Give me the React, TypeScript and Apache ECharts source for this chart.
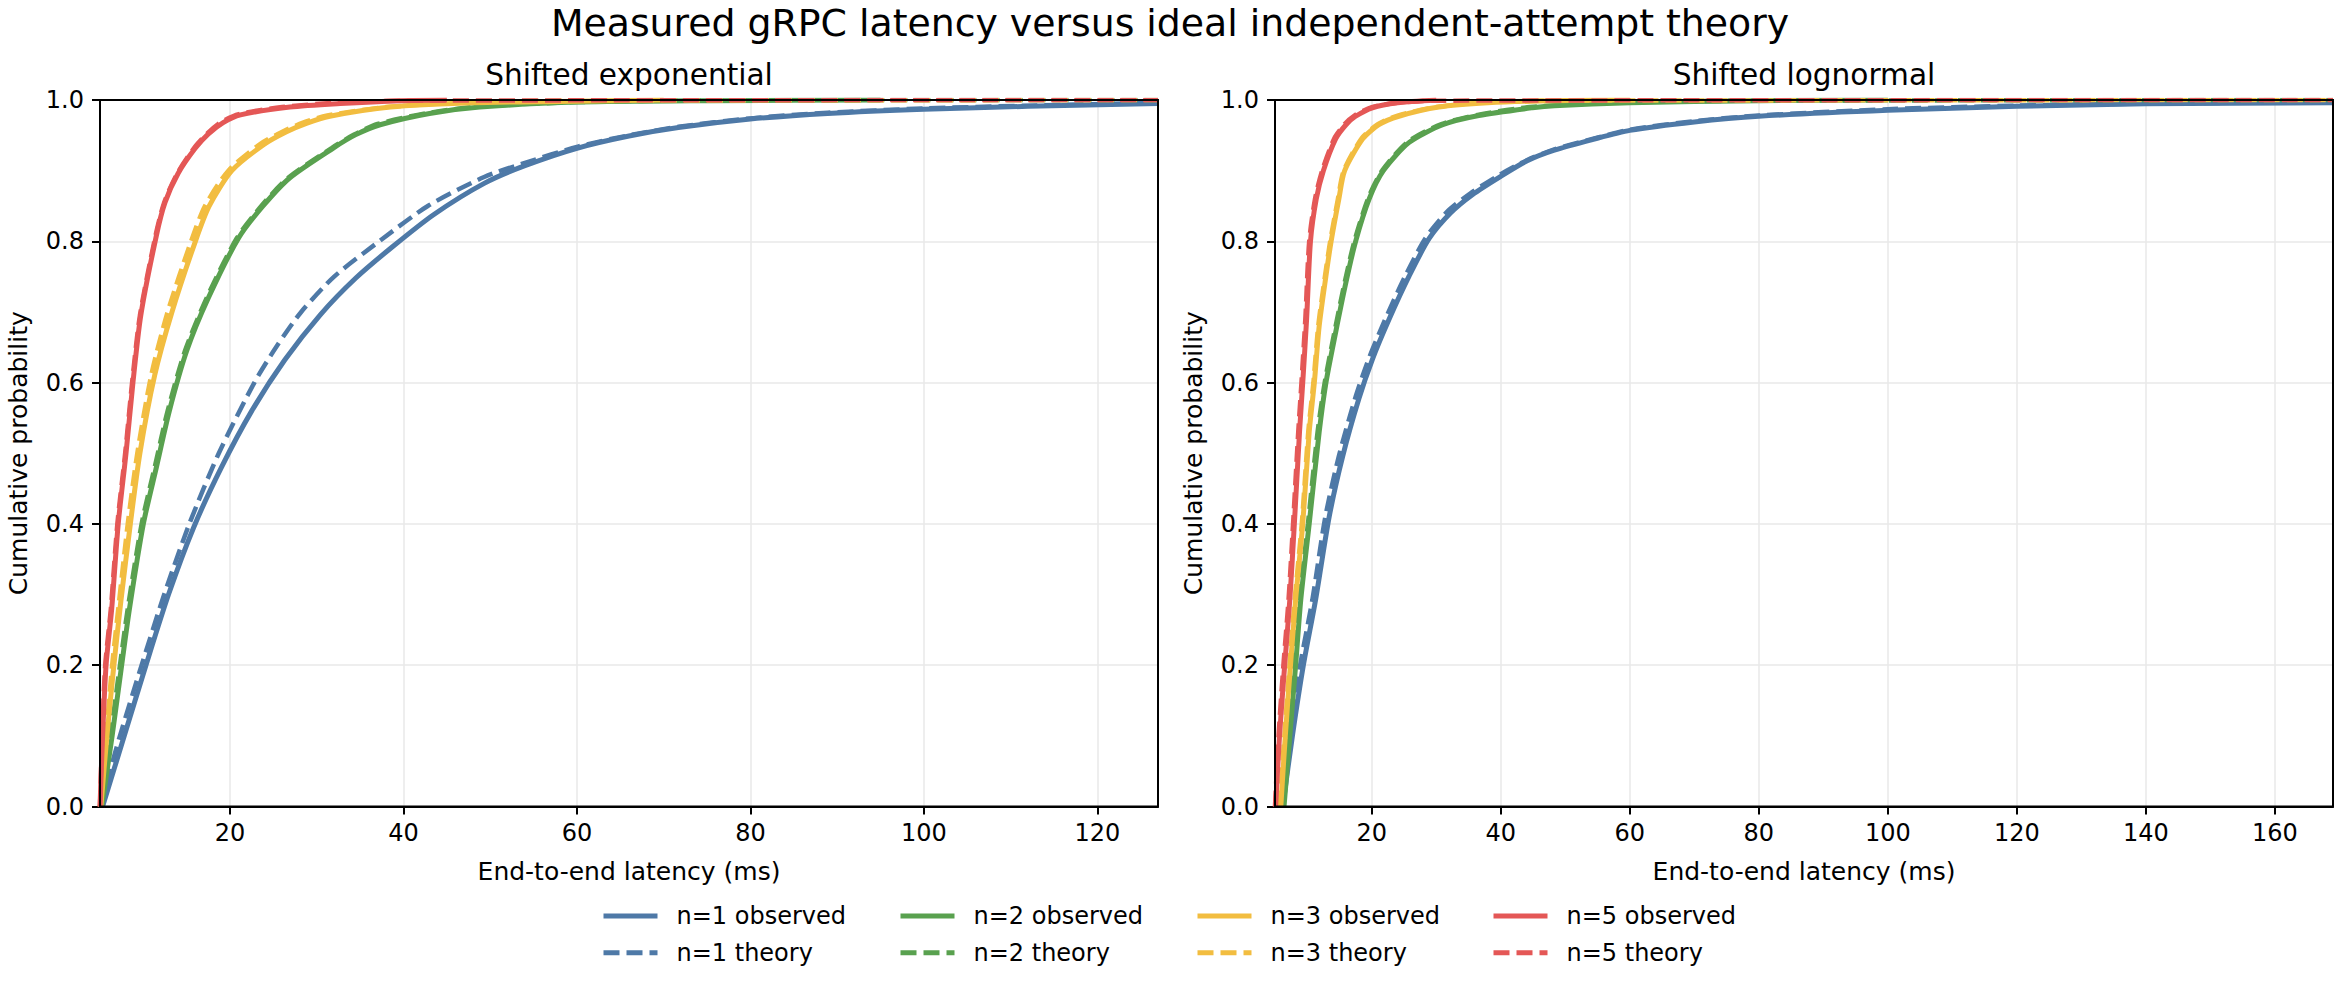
import React, { useEffect, useRef } from "react";
import * as echarts from "echarts";

const FONT = '"DejaVu Sans", "Liberation Sans", sans-serif';

const mainTitle = "Measured gRPC latency versus ideal independent-attempt theory";
const panelTitles = ["Shifted exponential", "Shifted lognormal"];
const xAxisLabel = "End-to-end latency (ms)";
const yAxisLabel = "Cumulative probability";
const attemptLabels = ["n=1", "n=2", "n=3", "n=5"];
const attemptColors = ["#4E79A7", "#59A14F", "#F2BD40", "#E45756"];

const yTicks = [0, 0.2, 0.4, 0.6, 0.8, 1.0];
const expXTicks = [20, 40, 60, 80, 100, 120];
const logXTicks = [20, 40, 60, 80, 100, 120, 140, 160];
const expXRange = [5.0, 127.0];
const logXRange = [5.0, 169.0];

// ---- Shifted exponential panel: [latency ms, cumulative probability] ----
const expN1Observed = [
  [5.3, 0], [7.8, 0.1], [10.3, 0.2], [12.9, 0.3], [15.8, 0.395], [19.0, 0.48], [22.5, 0.56],
  [26.3, 0.632], [30.4, 0.696], [34.5, 0.748], [38.8, 0.793], [43.5, 0.838], [49.3, 0.882],
  [54.0, 0.907], [60.1, 0.932], [66.0, 0.949], [71.7, 0.961], [80.0, 0.973], [88.9, 0.981],
  [100.0, 0.987], [112.0, 0.991], [127.0, 0.995],
];
const expN1Theory = [
  [5.0, 0], [7.3, 0.1], [9.8, 0.2], [12.4, 0.3], [15.3, 0.4], [18.7, 0.5], [22.8, 0.6],
  [25.3, 0.65], [28.2, 0.7], [32.0, 0.75], [37.2, 0.8], [42.8, 0.85], [49.3, 0.891],
  [54.0, 0.911], [60.1, 0.934], [66.0, 0.95], [71.7, 0.962], [80.0, 0.974], [88.9, 0.982],
  [100.0, 0.988], [112.0, 0.992], [127.0, 0.996],
];
const expN2Observed = [
  [5.2, 0], [6.4, 0.1], [7.5, 0.2], [8.4, 0.28], [10.0, 0.4], [11.5, 0.48], [13.0, 0.56],
  [15.0, 0.645], [17.5, 0.72], [21.0, 0.805], [23.8, 0.85], [26.9, 0.89], [31.9, 0.932],
  [34.5, 0.951], [37.3, 0.965], [43.0, 0.981], [48.8, 0.99], [60.2, 0.997], [75.0, 0.999],
  [95.0, 1.0],
];
const expN2Theory = [
  [5.0, 0], [6.2, 0.1], [7.3, 0.2], [8.2, 0.28], [9.8, 0.4], [11.3, 0.48], [12.8, 0.56],
  [14.8, 0.645], [17.3, 0.72], [20.8, 0.805], [23.6, 0.85], [26.7, 0.89], [31.7, 0.932],
  [34.3, 0.951], [37.0, 0.966], [43.0, 0.982], [49.0, 0.991], [60.0, 0.997], [75.0, 0.9995],
  [127.0, 1.0],
];
const expN3Observed = [
  [5.1, 0], [5.8, 0.1], [6.6, 0.2], [7.4, 0.29], [8.5, 0.4], [9.6, 0.5], [11.3, 0.61],
  [13.3, 0.7], [16.0, 0.8], [17.6, 0.85], [20.2, 0.9], [23.9, 0.937], [26.5, 0.955],
  [28.8, 0.967], [31.5, 0.977], [38.5, 0.99], [48.0, 0.996], [58.0, 0.998], [70.0, 1.0],
];
const expN3Theory = [
  [5.0, 0], [5.7, 0.1], [6.4, 0.2], [7.2, 0.29], [8.2, 0.4], [9.3, 0.5], [10.9, 0.61],
  [12.8, 0.7], [15.5, 0.8], [17.1, 0.85], [19.8, 0.9], [23.5, 0.938], [26.2, 0.956],
  [28.4, 0.968], [31.2, 0.978], [38.0, 0.99], [48.0, 0.997], [60.0, 0.999], [127.0, 1.0],
];
const expN5Observed = [
  [5.0, 0], [5.3, 0.1], [5.7, 0.2], [6.35, 0.28], [7.1, 0.4], [8.0, 0.5], [8.8, 0.6],
  [9.7, 0.695], [11.5, 0.808], [12.5, 0.855], [14.0, 0.896], [16.0, 0.932], [17.5, 0.952],
  [19.2, 0.968], [21.2, 0.979], [26.9, 0.99], [32.7, 0.995], [39.6, 0.999], [45.0, 1.0],
];
const expN5Theory = [
  [5.0, 0], [5.25, 0.1], [5.6, 0.2], [6.25, 0.28], [7.0, 0.4], [7.9, 0.5], [8.7, 0.6],
  [9.6, 0.695], [11.4, 0.808], [12.4, 0.855], [13.9, 0.896], [15.9, 0.933], [17.4, 0.953],
  [19.0, 0.969], [21.0, 0.98], [26.0, 0.99], [32.0, 0.996], [40.0, 0.999], [127.0, 1.0],
];

// ---- Shifted lognormal panel ----
const logN1Observed = [
  [6.2, 0], [7.7, 0.1], [9.4, 0.2], [11.3, 0.293], [13.4, 0.41], [15.5, 0.496], [18.0, 0.577],
  [20.1, 0.633], [22.7, 0.69], [25.8, 0.751], [28.9, 0.804], [32.2, 0.84], [35.6, 0.866],
  [40.0, 0.892], [44.1, 0.914], [48.3, 0.929], [54.2, 0.944], [60.0, 0.957], [70.0, 0.969],
  [80.0, 0.977], [100.0, 0.9855], [120.0, 0.991], [140.0, 0.9947], [169.0, 0.996],
];
const logN1Theory = [
  [5.9, 0], [7.3, 0.1], [8.9, 0.2], [10.8, 0.293], [12.8, 0.41], [14.9, 0.496], [17.4, 0.577],
  [19.5, 0.633], [22.1, 0.69], [25.2, 0.751], [28.3, 0.804], [31.7, 0.842], [35.3, 0.868],
  [39.8, 0.894], [44.1, 0.915], [48.3, 0.93], [54.2, 0.945], [60.0, 0.958], [70.0, 0.97],
  [80.0, 0.978], [100.0, 0.987], [120.0, 0.992], [140.0, 0.995], [169.0, 0.997],
];
const logN2Observed = [
  [6.4, 0], [7.3, 0.1], [8.2, 0.2], [9.0, 0.293], [10.3, 0.4], [11.85, 0.53], [12.9, 0.6],
  [14.4, 0.671], [16.0, 0.742], [17.5, 0.8], [19.6, 0.86], [21.8, 0.9], [25.8, 0.94],
  [31.0, 0.965], [36.6, 0.978], [44.9, 0.989], [48.3, 0.992], [60.0, 0.996], [80.0, 0.999],
  [100.0, 1.0],
];
const logN2Theory = [
  [6.2, 0], [7.1, 0.1], [8.0, 0.2], [8.8, 0.293], [10.1, 0.4], [11.6, 0.53], [12.7, 0.6],
  [14.2, 0.671], [15.8, 0.742], [17.3, 0.8], [19.4, 0.86], [21.6, 0.9], [25.6, 0.941],
  [30.8, 0.966], [36.4, 0.979], [44.5, 0.99], [60.0, 0.997], [80.0, 0.999], [169.0, 1.0],
];
const logN3Observed = [
  [5.9, 0], [6.6, 0.1], [7.4, 0.2], [8.2, 0.293], [9.3, 0.4], [10.3, 0.53], [11.1, 0.6],
  [11.85, 0.68], [12.9, 0.751], [13.7, 0.8], [14.9, 0.86], [15.8, 0.9], [18.6, 0.945],
  [21.1, 0.965], [24.2, 0.977], [30.4, 0.99], [38.0, 0.996], [48.0, 0.999], [60.0, 1.0],
];
const logN3Theory = [
  [5.7, 0], [6.45, 0.1], [7.25, 0.2], [8.05, 0.293], [9.15, 0.4], [10.15, 0.53], [10.95, 0.6],
  [11.7, 0.68], [12.75, 0.751], [13.55, 0.8], [14.75, 0.86], [15.65, 0.9], [18.45, 0.946],
  [21.0, 0.966], [24.0, 0.978], [30.0, 0.99], [38.0, 0.997], [50.0, 0.999], [169.0, 1.0],
];
const logN5Observed = [
  [5.1, 0], [5.7, 0.1], [6.5, 0.2], [7.3, 0.293], [8.0, 0.4], [8.8, 0.53], [9.3, 0.6],
  [9.9, 0.69], [10.5, 0.8], [11.4, 0.86], [12.5, 0.9], [14.4, 0.945], [16.0, 0.965],
  [17.5, 0.977], [20.1, 0.989], [24.0, 0.996], [30.0, 1.0],
];
const logN5Theory = [
  [5.0, 0], [5.55, 0.1], [6.3, 0.2], [7.1, 0.293], [7.8, 0.4], [8.6, 0.53], [9.1, 0.6],
  [9.7, 0.69], [10.3, 0.8], [11.2, 0.86], [12.3, 0.9], [14.2, 0.946], [15.8, 0.966],
  [17.3, 0.978], [20.0, 0.99], [24.0, 0.996], [30.0, 0.999], [169.0, 1.0],
];

const panelObserved = [
  [expN1Observed, expN2Observed, expN3Observed, expN5Observed],
  [logN1Observed, logN2Observed, logN3Observed, logN5Observed],
];
const panelTheory = [
  [expN1Theory, expN2Theory, expN3Theory, expN5Theory],
  [logN1Theory, logN2Theory, logN3Theory, logN5Theory],
];

// ---- layout (pixels) ----
const grids = [
  { left: 100, top: 100, width: 1058, height: 706.5 },
  { left: 1275, top: 100, width: 1058, height: 706.5 },
];
const DASH = [16, 7];
const OBS_WIDTH = 5;
const THEORY_WIDTH = 4.5;

export default function App() {
  const ref = useRef<HTMLDivElement>(null);

  useEffect(() => {
    document.body.style.margin = "0";
    const chart = echarts.init(ref.current!, null, { renderer: "svg" });

    const xRanges = [expXRange, logXRange];
    const xTicks = [expXTicks, logXTicks];

    const xAxis = [0, 1].map((p) => ({
      type: "value",
      gridIndex: p,
      min: xRanges[p][0],
      max: xRanges[p][1],
      axisLine: { show: true, onZero: false, lineStyle: { color: "#000", width: 2 } },
      axisTick: { show: true, length: 8, customValues: xTicks[p], lineStyle: { color: "#000", width: 2 } },
      axisLabel: {
        customValues: xTicks[p],
        fontSize: 24,
        fontFamily: FONT,
        color: "#000",
        margin: 14,
      },
      splitLine: { show: true, lineStyle: { color: "#e9e9e9", width: 1.5 } },
    }));

    const yAxis = [0, 1].map((p) => ({
      type: "value",
      gridIndex: p,
      min: 0,
      max: 1,
      interval: 0.2,
      axisLine: { show: true, onZero: false, lineStyle: { color: "#000", width: 2 } },
      axisTick: { show: true, length: 8, customValues: yTicks, lineStyle: { color: "#000", width: 2 } },
      axisLabel: {
        customValues: yTicks,
        fontSize: 24,
        fontFamily: FONT,
        color: "#000",
        margin: 16,
        formatter: (v: number) => v.toFixed(1),
      },
      splitLine: { show: true, lineStyle: { color: "#e9e9e9", width: 1.5 } },
    }));

    const series: any[] = [];
    [0, 1].forEach((p) => {
      attemptLabels.forEach((lab, i) => {
        series.push({
          type: "line",
          name: `${lab} observed`,
          xAxisIndex: p,
          yAxisIndex: p,
          data: panelObserved[p][i],
          showSymbol: false,
          symbol: "none",
          smooth: 0.25,
          lineStyle: { color: attemptColors[i], width: OBS_WIDTH, type: "solid" },
          itemStyle: { color: attemptColors[i] },
          emphasis: { disabled: true },
          z: 2 + i * 2,
        });
        series.push({
          type: "line",
          name: `${lab} theory`,
          xAxisIndex: p,
          yAxisIndex: p,
          data: panelTheory[p][i],
          showSymbol: false,
          symbol: "none",
          smooth: 0.25,
          lineStyle: { color: attemptColors[i], width: THEORY_WIDTH, type: DASH },
          itemStyle: { color: attemptColors[i] },
          emphasis: { disabled: true },
          z: 3 + i * 2,
        });
      });
    });

    const legendLefts = [601, 898, 1195, 1491];
    const legend = attemptLabels.map((lab, i) => ({
      orient: "vertical",
      left: legendLefts[i],
      top: 904,
      padding: 0,
      itemGap: 12.7,
      itemWidth: 54,
      itemHeight: 14,
      selectedMode: false,
      itemStyle: { opacity: 0 },
      lineStyle: { width: OBS_WIDTH, type: "inherit", color: "inherit", cap: "butt" },
      data: [`${lab} observed`, `${lab} theory`],
      textStyle: {
        fontSize: 24,
        fontFamily: FONT,
        color: "#000",
        lineHeight: 24,
        padding: [0, 0, 0, 14],
      },
    }));

    const text = (t: string, x: number, y: number, size: number, rot = 0) => ({
      type: "text",
      x,
      y,
      rotation: rot,
      silent: true,
      style: {
        text: t,
        fontSize: size,
        fontFamily: FONT,
        fill: "#000",
        align: "center",
        verticalAlign: "middle",
      },
    });

    const frame = (g: { left: number; top: number; width: number; height: number }) => ({
      type: "rect",
      silent: true,
      z: 100,
      shape: { x: g.left, y: g.top, width: g.width, height: g.height },
      style: { fill: "none", stroke: "#000", lineWidth: 2 },
    });

    const centers = grids.map((g) => g.left + g.width / 2);
    const midY = grids[0].top + grids[0].height / 2;

    chart.setOption({
      animation: false,
      backgroundColor: "#fff",
      grid: grids.map((g) => ({
        ...g,
        show: false,
        containLabel: false,
      })),
      xAxis,
      yAxis,
      legend,
      series,
      graphic: [
        frame(grids[0]),
        frame(grids[1]),
        text(mainTitle, 1170, 23, 37.8),
        text(panelTitles[0], centers[0], 75, 29.6),
        text(panelTitles[1], centers[1], 75, 29.6),
        text(xAxisLabel, centers[0], 871, 25),
        text(xAxisLabel, centers[1], 871, 25),
        text(yAxisLabel, 18, midY, 25, Math.PI / 2),
        text(yAxisLabel, 1193, midY, 25, Math.PI / 2),
      ],
    });

    return () => chart.dispose();
  }, []);

  return (
    <div
      ref={ref}
      style={{ position: "absolute", left: 0, top: 0, width: 2340, height: 990 }}
    />
  );
}
